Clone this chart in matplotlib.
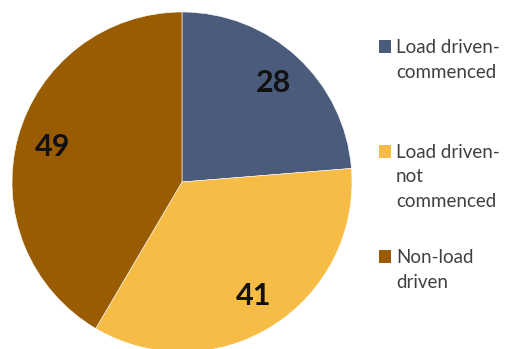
import matplotlib
matplotlib.use("Agg")
import matplotlib.pyplot as plt
from matplotlib.patches import Rectangle

categories = ["Load driven-\ncommenced", "Load driven-\nnot\ncommenced", "Non-load\ndriven"]
values = [28, 41, 49]
colors = ["#4b5b7c", "#f6bc45", "#9a5c02"]

plt.rcParams["font.family"] = ["Lato", "DejaVu Sans"]

fig = plt.figure(figsize=(5.08, 3.49), dpi=100)
W, H = 508, 349

# pie axes: centre (182, 182) px, radius 170 px
cx, cy, r = 182, 182, 170
ax = fig.add_axes([(cx - r) / W, (H - cy - r) / H, 2 * r / W, 2 * r / H])
total = sum(values)
wedges, texts, autotexts = ax.pie(
    values,
    colors=colors,
    startangle=90,
    counterclock=False,
    autopct=lambda p: f"{round(p * total / 100)}",
    pctdistance=0.79,
    wedgeprops=dict(edgecolor="white", linewidth=0.4),
    textprops=dict(fontsize=22, fontweight="bold", color="#111111"),
)
ax.set_xlim(-1, 1)
ax.set_ylim(-1, 1)
ax.set_aspect("equal")
ax.axis("off")

# legend drawn by hand: square handle + wrapped label, one text per line
x_box, x_txt = 379, 396
first_baseline, step, line_gap = 53, 105, 24.5
for i, (lab, col) in enumerate(zip(categories, colors)):
    base = first_baseline + step * i
    fig.patches.append(Rectangle((x_box / W, (H - base) / H), 12 / W, 13 / H,
                                 transform=fig.transFigure, facecolor=col,
                                 edgecolor="none"))
    for j, line in enumerate(lab.split("\n")):
        y = base + line_gap * j
        fig.text(x_txt / W, (H - y) / H, line, fontsize=13.5, color="#404040",
                 va="baseline", ha="left")

fig.savefig("out.png", dpi=100)
